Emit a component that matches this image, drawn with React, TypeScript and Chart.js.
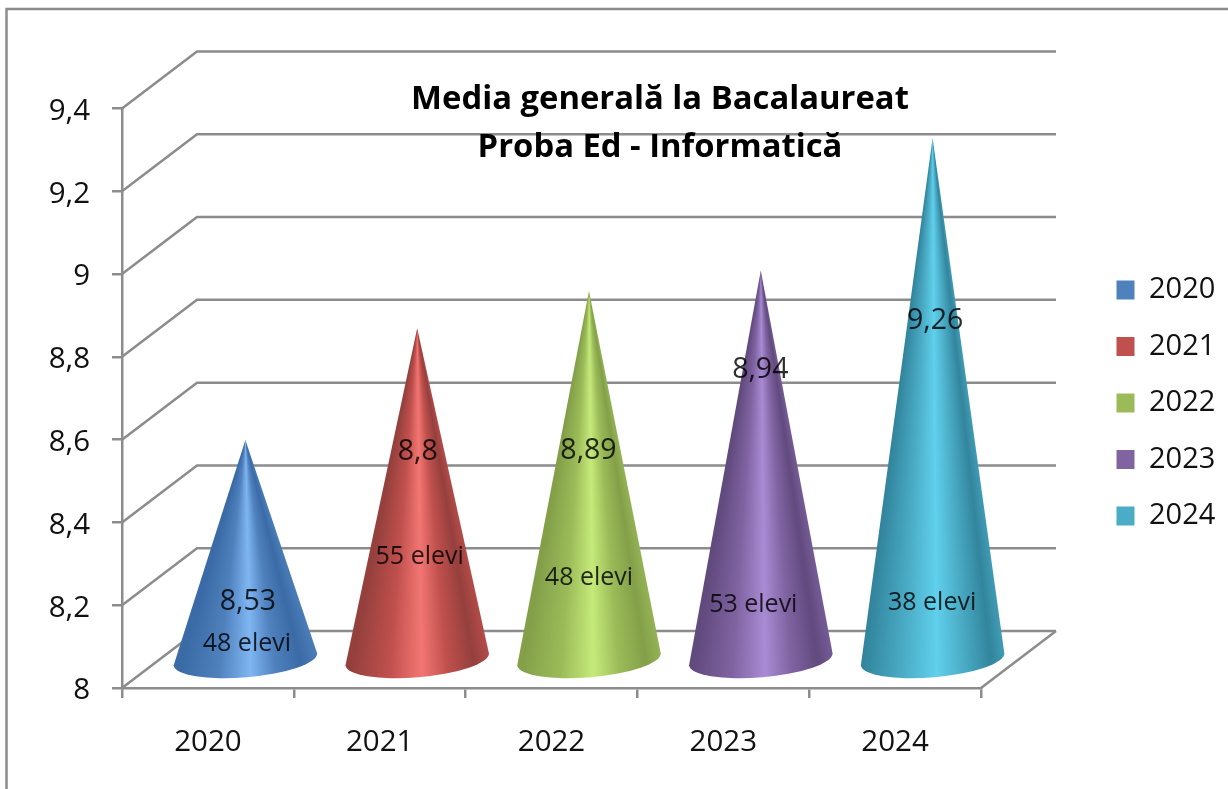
import React, { useEffect, useRef } from "react";
import { Chart, registerables } from "chart.js";

Chart.register(...registerables);

const FONT = '"Open Sans", "Noto Sans", sans-serif';
const GRID = "#8c8c8c";

const categories = ["2020", "2021", "2022", "2023", "2024"];
const averages = [8.53, 8.8, 8.89, 8.94, 9.26];
const studentCounts = [48, 55, 48, 53, 38];
const legendColors = ["#4F81BD", "#C0504D", "#9BBB59", "#8064A2", "#4BACC6"];
const coneDark = ["#3a6ba6", "#95403d", "#83a049", "#614a7e", "#32859d"];
const coneLight = ["#7fb6f2", "#f27673", "#c6ea7a", "#a98bd4", "#60d0ec"];
const titleLines = ["Media generală la Bacalaureat", "Proba Ed - Informatică"];

// Hand-placed text, relative to each cone's bar: [x offset, rise above the axis]
const averageLabelPlacement = [[40, 85], [38, 235], [37, 236], [37, 317], [40, 366]];
const countLabelPlacement = [[39, 43], [40, 130], [37.5, 109], [30, 82], [37, 84]];

const DEPTH_X = 75;
const DEPTH_Y = 57;
const TILT = (4.8 * Math.PI) / 180;

const pseudo3d = {
  id: "pseudo3d",
  beforeLayout(chart: any) {
    const legend = chart.legend;
    if (legend && !legend.__wrapped) {
      const orig = legend.fit.bind(legend);
      legend.fit = () => {
        orig();
        legend.width = 247;
      };
      legend.__wrapped = true;
    }
  },
  afterLayout(chart: any) {
    const legend = chart.legend;
    const pad = legend.options.labels.padding;
    legend.left = 1116.5 - pad;
    legend.right = 1228;
    legend.top = 248;
    const title = chart.titleBlock;
    title.left = 300;
    title.right = 1020;
    title.top = 63.5;
    title.bottom = 160;
  },
  beforeDraw(chart: any) {
    const { ctx, scales, chartArea } = chart;
    const y = scales.y;
    ctx.save();
    ctx.fillStyle = "#ffffff";
    ctx.fillRect(0, 0, chart.width, chart.height);
    // outer chart frame, cut by the right and bottom of the picture
    ctx.strokeStyle = GRID;
    ctx.lineWidth = 2.5;
    ctx.strokeRect(6.5, 9, 1400, 1000);
    // side wall and back wall lines
    ctx.lineWidth = 2.5;
    for (const t of y.ticks) {
      const py = y.getPixelForValue(t.value);
      ctx.beginPath();
      ctx.moveTo(chartArea.left, py);
      ctx.lineTo(chartArea.left + DEPTH_X, py - DEPTH_Y);
      ctx.lineTo(chartArea.right + DEPTH_X, py - DEPTH_Y);
      ctx.stroke();
    }
    // floor right edge
    const base = y.getPixelForValue(y.min);
    ctx.beginPath();
    ctx.moveTo(chartArea.right, base);
    ctx.lineTo(chartArea.right + DEPTH_X, base - DEPTH_Y);
    ctx.stroke();
    ctx.restore();
  },
  beforeDatasetDraw(chart: any, args: any) {
    const { ctx } = chart;
    const meta = chart.getDatasetMeta(args.index);
    meta.data.forEach((bar: any, i: number) => {
      const cx = bar.x + DEPTH_X / 2;
      const cy = bar.base - DEPTH_Y / 2;
      const tipY = bar.y - DEPTH_Y / 2 + 0;
      const rx = bar.width / 2;
      const ry = 18;
      const lx = cx - rx * Math.cos(TILT);
      const ly = cy + 1 + rx * Math.sin(TILT);
      const rxp = cx + rx * Math.cos(TILT);
      const ryp = cy + 1 - rx * Math.sin(TILT);
      const aLeft = Math.atan2(ly - tipY, lx - cx);
      const aRight = Math.atan2(ryp - tipY, rxp - cx);
      const a0 = aRight - 0.02;
      const span = aLeft + 0.02 - a0;
      const grad = ctx.createConicGradient(a0, cx, tipY);
      const at = (t: number) => ((1 - t) * span) / (2 * Math.PI);
      const dark = coneDark[i];
      const base = legendColors[i];
      const light = coneLight[i];
      const stops: [number, string][] = [
        [1, base],
        [0.85, dark],
        [0.68, base],
        [0.52, light],
        [0.32, base],
        [0.08, dark],
        [0, dark],
      ];
      stops
        .map(([t, c]) => [at(t), c] as [number, string])
        .sort((a, b) => a[0] - b[0])
        .forEach(([f, c]) => grad.addColorStop(f, c));
      ctx.save();
      ctx.fillStyle = grad;
      ctx.beginPath();
      ctx.moveTo(cx, tipY);
      ctx.lineTo(lx, ly);
      ctx.ellipse(cx, cy + 1, rx, ry, -TILT, Math.PI, 0, true);
      ctx.closePath();
      ctx.fill();
      ctx.restore();
    });
    return false;
  },
  afterDatasetsDraw(chart: any) {
    const { ctx } = chart;
    const meta = chart.getDatasetMeta(0);
    ctx.save();
    ctx.fillStyle = "rgba(0,0,0,0.82)";
    ctx.textAlign = "center";
    ctx.textBaseline = "middle";
    meta.data.forEach((bar: any, i: number) => {
      const [ax, ar] = averageLabelPlacement[i];
      ctx.font = `28.5px ${FONT}`;
      ctx.fillText(String(averages[i]).replace(".", ","), bar.x + ax, bar.base - ar);
      const [cx, cr] = countLabelPlacement[i];
      ctx.font = `25px ${FONT}`;
      ctx.fillText(`${studentCounts[i]} elevi`, bar.x + cx, bar.base - cr);
    });
    ctx.restore();
  },
};

export default function App() {
  const ref = useRef<HTMLCanvasElement>(null);
  useEffect(() => {
    const chart = new Chart(ref.current as HTMLCanvasElement, {
      type: "bar",
      data: {
        labels: categories,
        datasets: [
          {
            label: "Media generală",
            data: averages,
            base: 8,
            backgroundColor: legendColors,
            categoryPercentage: 1,
            barPercentage: 0.838,
          },
        ],
      },
      options: {
        animation: false,
        responsive: false,
        devicePixelRatio: 1,
        layout: { padding: 0 },
        plugins: {
          tooltip: { enabled: false },
          title: {
            display: true,
            text: titleLines,
            color: "#000000",
            padding: { top: 12.5, bottom: 0 },
            font: { family: FONT, size: 32.8, weight: "bold", lineHeight: 48 / 32.8 },
          },
          legend: {
            position: "right",
            align: "start",
            onClick: () => {},
            labels: {
              boxWidth: 18,
              boxHeight: 19,
              padding: 27.5,
              color: "#111111",
              font: { family: FONT, size: 29 },
              generateLabels: (c: any) =>
                c.data.labels.map((text: string, i: number) => ({
                  text,
                  fillStyle: legendColors[i],
                  strokeStyle: "transparent",
                  lineWidth: 0,
                  hidden: false,
                  index: i,
                  fontColor: "#111111",
                })),
            },
          },
        },
        scales: {
          x: {
            afterFit: (s: any) => {
              s.height = 101;
            },
            grid: {
              drawOnChartArea: false,
              drawTicks: true,
              tickLength: 10,
              color: GRID,
              lineWidth: 2.5,
            },
            border: { display: true, color: GRID, width: 2.5 },
            ticks: {
              color: "#111111",
              padding: 27,
              maxRotation: 0,
              font: { family: FONT, size: 29.5 },
            },
          },
          y: {
            min: 8,
            max: 9.4,
            afterFit: (s: any) => {
              s.width = 122;
            },
            grid: {
              drawOnChartArea: false,
              drawTicks: true,
              tickLength: 10,
              color: GRID,
              lineWidth: 2.5,
            },
            border: { display: true, color: GRID, width: 2.5 },
            ticks: {
              stepSize: 0.2,
              color: "#111111",
              padding: 22,
              labelOffset: 3,
              font: { family: FONT, size: 29.5 },
              callback: (v: any) => String(parseFloat(Number(v).toFixed(1))).replace(".", ","),
            },
          },
        },
      },
      plugins: [pseudo3d],
    } as any);
    return () => chart.destroy();
  }, []);
  return (
    <canvas
      ref={ref}
      width={1228}
      height={789}
      style={{ position: "fixed", left: 0, top: 0, display: "block" }}
    />
  );
}
